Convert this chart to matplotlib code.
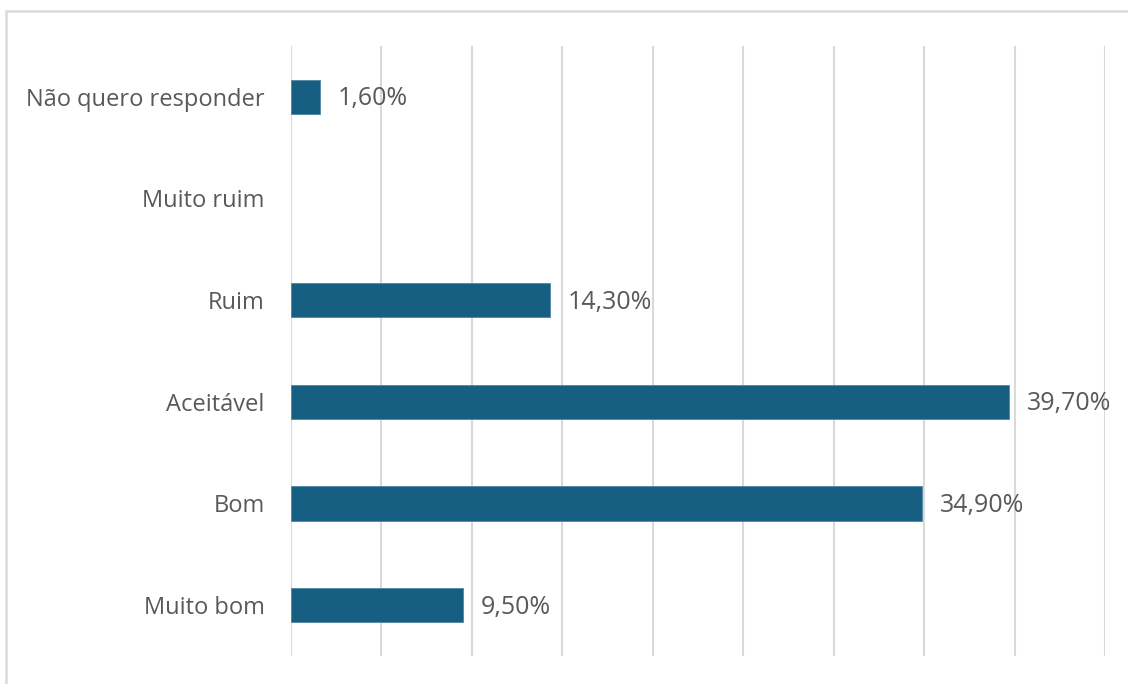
import matplotlib.pyplot as plt
from matplotlib.patches import Rectangle

categories = ["Não quero responder", "Muito ruim", "Ruim", "Aceitável", "Bom", "Muito bom"]
values = [1.6, 0.0, 14.3, 39.7, 34.9, 9.5]
labels = ["1,60%", None, "14,30%", "39,70%", "34,90%", "9,50%"]
grid_ticks = [0, 5, 10, 15, 20, 25, 30, 35, 40, 45]

bar_color = "#175F82"
text_color = "#595959"
grid_color = "#d9d9d9"

plt.rcParams["font.family"] = ["Open Sans", "DejaVu Sans"]

fig = plt.figure(figsize=(11.28, 6.84), dpi=100)
ax = fig.add_axes([291 / 1128, 1 - 656 / 684, (1105 - 291) / 1128, (656 - 46) / 684])

ypos = list(range(len(categories)))
nonzero = [(y, v) for y, v in zip(ypos, values) if v > 0]
ax.barh([p[0] for p in nonzero], [p[1] for p in nonzero], height=0.335,
        color=bar_color, edgecolor="#4f86a3", linewidth=0.6, zorder=3)

for y, v, lab in zip(ypos, values, labels):
    if lab:
        ax.annotate(lab, (v, y), xytext=(13, -1.5), textcoords="offset points",
                    va="center", ha="left", fontsize=18, color=text_color)

ax.set_xlim(0, 45)
ax.set_ylim(len(categories) - 0.5, -0.5)
ax.set_xticks(grid_ticks)
ax.set_xticklabels([])
ax.set_yticks(ypos)
ax.set_yticklabels(categories, fontsize=17, color=text_color)
ax.tick_params(axis="both", length=0)
ax.tick_params(axis="y", pad=19)
ax.grid(axis="x", color=grid_color, linewidth=1.5, zorder=0)
for s in ax.spines.values():
    s.set_visible(False)

# outer frame, only top and left edges within the canvas
fig.patches.append(Rectangle((6 / 1128, -0.1), 1.2, 1 - 11 / 684 + 0.1,
                             transform=fig.transFigure, fill=False,
                             edgecolor="#d9d9d9", linewidth=1.8))

fig.savefig("out.png", dpi=100, facecolor="white")
